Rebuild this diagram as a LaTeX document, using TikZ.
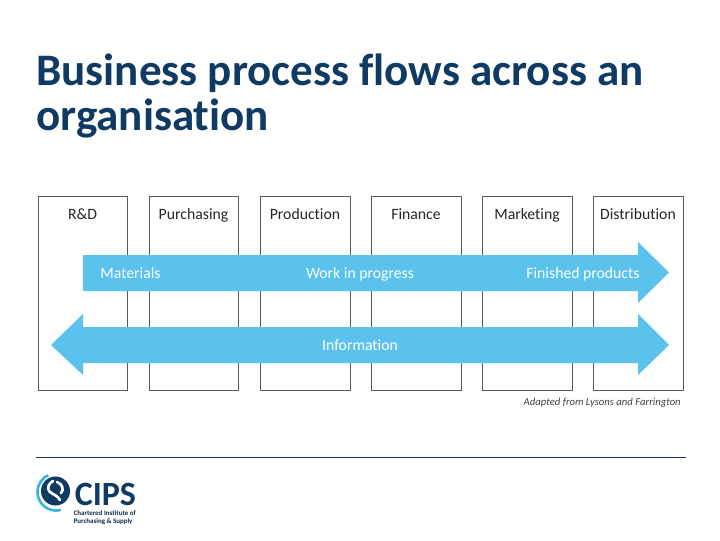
\documentclass[tikz,border=0pt]{standalone}
\usepackage{fontspec}
\setmainfont[Ligatures=NoCommon]{Carlito}
\definecolor{navy}{HTML}{0F3A63}
\definecolor{flowblue}{HTML}{5BC2EE}
\definecolor{ringblue}{HTML}{3FB4DC}
\tikzset{
  dept/.style={draw=black!65, line width=0.7pt, fill=white},
  deptlabel/.style={font=\fontsize{11.8}{14}\selectfont, text=black!85, anchor=base, inner sep=0pt},
  flow/.style={fill=flowblue, draw=none},
  flowlabel/.style={font=\fontsize{11.8}{14}\selectfont, text=white, anchor=base, inner sep=0pt},
  headline/.style={font=\fontsize{33.8}{36}\selectfont\bfseries, text=navy, anchor=base west, inner sep=0pt}
}
\begin{document}
\begin{tikzpicture}[x=0.75pt, y=-0.75pt]
				\useasboundingbox (0,0) rectangle (720,540);
				% 1. title
				\node[headline] (title1) at (36,85) {Business process flows across an};
				\node[headline] (title2) at (36,130) {organisation};

				% 2. department boxes
				\foreach \xa/\xb/\name/\lab in {38/127/rd/R\&D, 149/238/purch/Purchasing, 260/350/prod/Production, 371/461/fin/Finance, 482/572/mark/Marketing, 593/683/dist/Distribution} {
					\draw[dept] (\xa,196) rectangle (\xb,390);
					\node[deptlabel] (\name) at ({(\xa+\xb)/2},219.5) {\lab};
				}

				% 3. flow arrows
				\fill[flow] (83,255) -- (638,255) -- (638,242) -- (669,272.5) -- (638,303) -- (638,291) -- (83,291) -- cycle;
				\fill[flow] (51,345) -- (83,314) -- (83,327) -- (638,327) -- (638,314) -- (669,345) -- (638,375) -- (638,363) -- (83,363) -- (83,375) -- cycle;
				\node[flowlabel] (materials) at (130.5,278.5) {Materials};
				\node[flowlabel] (wip) at (360,278.5) {Work in progress};
				\node[flowlabel] (finished) at (583,278.5) {Finished products};
				\node[flowlabel] (info) at (360,350) {Information};

				% 4. source note and rule
				\node[font=\fontsize{8}{9}\selectfont\itshape, text=black!75, anchor=east, inner sep=0pt] (source) at (681,403) {Adapted from Lysons and Farrington};
				\draw[navy, line width=0.7pt] (36,457.5) -- (686,457.5);

				% 5. logo
				\draw[ringblue, line width=2pt] (56,492) ++(245:18.5) arc (245:75:18.5);
				\fill[navy] (55.5,491) circle (14.5);
				\draw[white, line width=2pt, line cap=round] (53,481) .. controls (45,486) and (48,492) .. (53,494) .. controls (57,496) and (59,498) .. (60,500);
				\draw[white, line width=2pt, line cap=round] (57,482) .. controls (63,484) and (64,490) .. (61,493);
				\node[font=\fontsize{25.5}{26}\selectfont\bfseries, text=navy, anchor=base west, inner sep=0pt] (cips) at (74.5,505) {CIPS};
				\node[font=\fontsize{5.2}{6}\selectfont\bfseries, text=navy!70!black, anchor=north west, inner sep=0pt, align=left] (cipsname) at (73.5,510) {Chartered Institute of\\Purchasing \& Supply};
			\end{tikzpicture}
\end{document}
